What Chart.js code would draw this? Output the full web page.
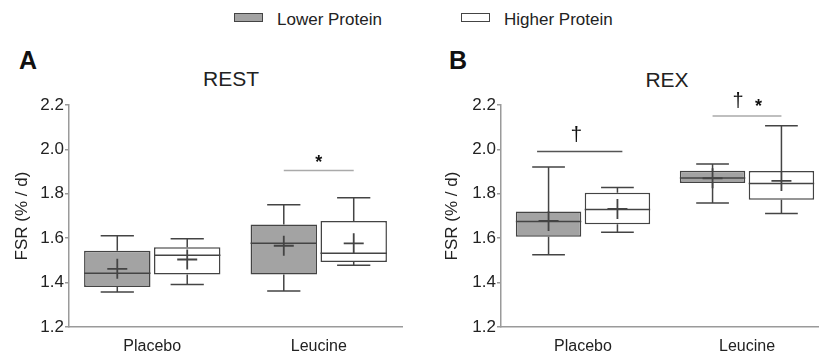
<!DOCTYPE html>
<html>
<head>
<meta charset="utf-8">
<script src="https://cdn.jsdelivr.net/npm/chart.js@4"></script>
<style>
body{margin:0;width:819px;height:356px;overflow:hidden;background:#fff;position:relative;font-family:"Liberation Sans",Arial,sans-serif;color:#222}
canvas{position:absolute;top:0}
#cA{left:0}
#cB{left:409px}
.txt{position:absolute;line-height:1;white-space:nowrap}
.panel{font-size:25px;font-weight:bold;color:#111}
.ttl{font-size:21px;width:120px;text-align:center}
.leg{font-size:17px}
.sw{position:absolute;width:27px;height:7px;border:1px solid #444}
</style>
</head>
<body>
<div class="sw" style="left:234px;top:13px;background:#a3a3a3"></div>
<div class="txt leg" style="left:277px;top:11px">Lower Protein</div>
<div class="sw" style="left:461px;top:13px;background:#fff"></div>
<div class="txt leg" style="left:504px;top:11px">Higher Protein</div>

<div class="txt panel" style="left:19px;top:48px">A</div>
<div class="txt panel" style="left:449px;top:48px">B</div>
<div class="txt ttl" style="left:171px;top:68px">REST</div>
<div class="txt ttl" style="left:607px;top:69px">REX</div>

<canvas id="cA" width="409" height="356"></canvas>
<canvas id="cB" width="421" height="356"></canvas>
<script>
const categories = ['Placebo', 'Leucine'];

// REST - lower protein
const restLowMin  = [1.358, 1.362];
const restLowQ1   = [1.380, 1.437];
const restLowMed  = [1.442, 1.577];
const restLowQ3   = [1.544, 1.662];
const restLowMax  = [1.611, 1.751];
const restLowMean = [1.462, 1.566];
// REST - higher protein
const restHighMin  = [1.391, 1.478];
const restHighQ1   = [1.437, 1.493];
const restHighMed  = [1.523, 1.532];
const restHighQ3   = [1.559, 1.678];
const restHighMax  = [1.598, 1.782];
const restHighMean = [1.504, 1.577];

// REX - lower protein
const rexLowMin  = [1.525, 1.759];
const rexLowQ1   = [1.606, 1.849];
const rexLowMed  = [1.675, 1.871];
const rexLowQ3   = [1.720, 1.904];
const rexLowMax  = [1.921, 1.934];
const rexLowMean = [1.678, 1.870];
// REX - higher protein
const rexHighMin  = [1.627, 1.711];
const rexHighQ1   = [1.663, 1.773];
const rexHighMed  = [1.729, 1.846];
const rexHighQ3   = [1.805, 1.903];
const rexHighMax  = [1.828, 2.106];
const rexHighMean = [1.732, 1.858];

const yTicks = [1.2, 1.4, 1.6, 1.8, 2.0, 2.2];

Chart.defaults.font.family = "'Liberation Sans', Arial, sans-serif";
Chart.defaults.color = '#222';

const lineCol = '#444';
const axisCol = '#9a9a9a';

// whiskers, median and mean cross drawn on top of the floating bars
const boxPlugin = {
    id:'boxWhiskers',
    afterDatasetsDraw(chart){
        const ctx = chart.ctx, ys = chart.scales.y;
        const py = v => ys.getPixelForValue(v);
        chart.data.datasets.forEach((ds, d) => {
            const s = ds.stats;
            chart.getDatasetMeta(d).data.forEach((bar, i) => {
                const x = bar.x, w = bar.width;
                ctx.save();
                ctx.strokeStyle = lineCol;
                ctx.lineWidth = 1.5;
                ctx.beginPath();
                ctx.moveTo(x, py(ds.data[i][1])); ctx.lineTo(x, py(s.max[i]));
                ctx.moveTo(x - w/4, py(s.max[i])); ctx.lineTo(x + w/4, py(s.max[i]));
                ctx.moveTo(x, py(ds.data[i][0])); ctx.lineTo(x, py(s.min[i]));
                ctx.moveTo(x - w/4, py(s.min[i])); ctx.lineTo(x + w/4, py(s.min[i]));
                ctx.moveTo(x - w/2, py(s.med[i])); ctx.lineTo(x + w/2, py(s.med[i]));
                ctx.stroke();
                const my = py(s.mean[i]);
                ctx.lineWidth = 1.8;
                ctx.beginPath();
                ctx.moveTo(x - 10, my); ctx.lineTo(x + 10, my);
                ctx.moveTo(x, my - 10); ctx.lineTo(x, my + 10);
                ctx.stroke();
                ctx.restore();
            });
        });
    }
};

// significance bars with symbols
const sigPlugin = {
    id:'sigMarks',
    afterDraw(chart, args, opts){
        const ctx = chart.ctx, xs = chart.scales.x, ys = chart.scales.y;
        const cw = xs.width / categories.length;
        (opts.items || []).forEach(it => {
            const c = xs.getPixelForValue(it.cat);
            const yy = ys.getPixelForValue(it.y);
            ctx.save();
            ctx.strokeStyle = it.color;
            ctx.lineWidth = 1.5;
            ctx.beginPath();
            ctx.moveTo(c + it.from*cw, yy);
            ctx.lineTo(c + it.to*cw, yy);
            ctx.stroke();
            ctx.fillStyle = '#111';
            ctx.textAlign = 'center';
            ctx.textBaseline = 'alphabetic';
            it.marks.forEach(m => {
                ctx.font = (m.bold ? 'bold ' : '') + m.size + "px 'Liberation Sans', Arial, sans-serif";
                ctx.fillText(m.text, c + m.dx*cw, yy - m.rise);
            });
            ctx.restore();
        });
    }
};

function boxSet(label, fill, q1, q3, min, med, max, mean){
    return {
        label: label,
        data: categories.map((c, i) => [q1[i], q3[i]]),
        stats: {min: min, med: med, max: max, mean: mean},
        backgroundColor: fill,
        borderColor: lineCol,
        borderWidth: 1.5,
        borderSkipped: false,
        categoryPercentage: 0.84,
        barPercentage: 0.95
    };
}

function makePanel(id, low, high, notes, yWidth, titlePad, padRight){
    const ctx = document.getElementById(id).getContext('2d');
    return new Chart(ctx, {
        type:'bar',
        data:{ labels: categories, datasets:[low, high] },
        options:{
            responsive:false,
            animation:false,
            layout:{ padding:{ top:105, left:0, right:padRight, bottom:0 } },
            plugins:{
                legend:{ display:false },
                tooltip:{ enabled:false },
                sigMarks:{ items: notes }
            },
            scales:{
                x:{
                    grid:{ drawOnChartArea:false, drawTicks:false },
                    border:{ color: axisCol, width:1.5 },
                    ticks:{ font:{ size:16 }, padding:10, color:'#222' },
                    afterFit(s){ s.height = 29; }
                },
                y:{
                    min:1.2, max:2.2,
                    afterBuildTicks(s){ s.ticks = yTicks.map(v => ({value:v})); },
                    grid:{ drawOnChartArea:false, drawTicks:true, tickLength:4, color: axisCol, lineWidth:1.5 },
                    border:{ color: axisCol, width:1.5 },
                    ticks:{ font:{ size:17 }, padding:1, color:'#222', callback: v => v.toFixed(1) },
                    title:{ display:true, text:'FSR (% / d)', font:{ size:17 }, color:'#222', padding:{ top:titlePad, bottom:0 } },
                    afterFit(s){ s.width = yWidth; }
                }
            }
        },
        plugins:[boxPlugin, sigPlugin]
    });
}

makePanel('cA',
    boxSet('Lower Protein', '#a3a3a3', restLowQ1, restLowQ3, restLowMin, restLowMed, restLowMax, restLowMean),
    boxSet('Higher Protein', '#ffffff', restHighQ1, restHighQ3, restHighMin, restHighMed, restHighMax, restHighMean),
    [{cat:1, from:-0.21, to:0.21, y:1.905, color:'#aaaaaa', marks:[{text:'*', dx:0, rise:2, size:18, bold:true}]}],
    69, 12, 7);

makePanel('cB',
    boxSet('Lower Protein', '#a3a3a3', rexLowQ1, rexLowQ3, rexLowMin, rexLowMed, rexLowMax, rexLowMean),
    boxSet('Higher Protein', '#ffffff', rexHighQ1, rexHighQ3, rexHighMin, rexHighMed, rexHighMax, rexHighMean),
    [{cat:0, from:-0.28, to:0.24, y:1.99, color:'#555555', marks:[{text:'\u2020', dx:-0.04, rise:11, size:21}]},
     {cat:1, from:-0.21, to:0.21, y:2.15, color:'#aaaaaa', marks:[{text:'\u2020', dx:-0.055, rise:9, size:20}, {text:'*', dx:0.07, rise:4, size:18, bold:true}]}],
    92, 33, 1);
</script>
</body>
</html>
